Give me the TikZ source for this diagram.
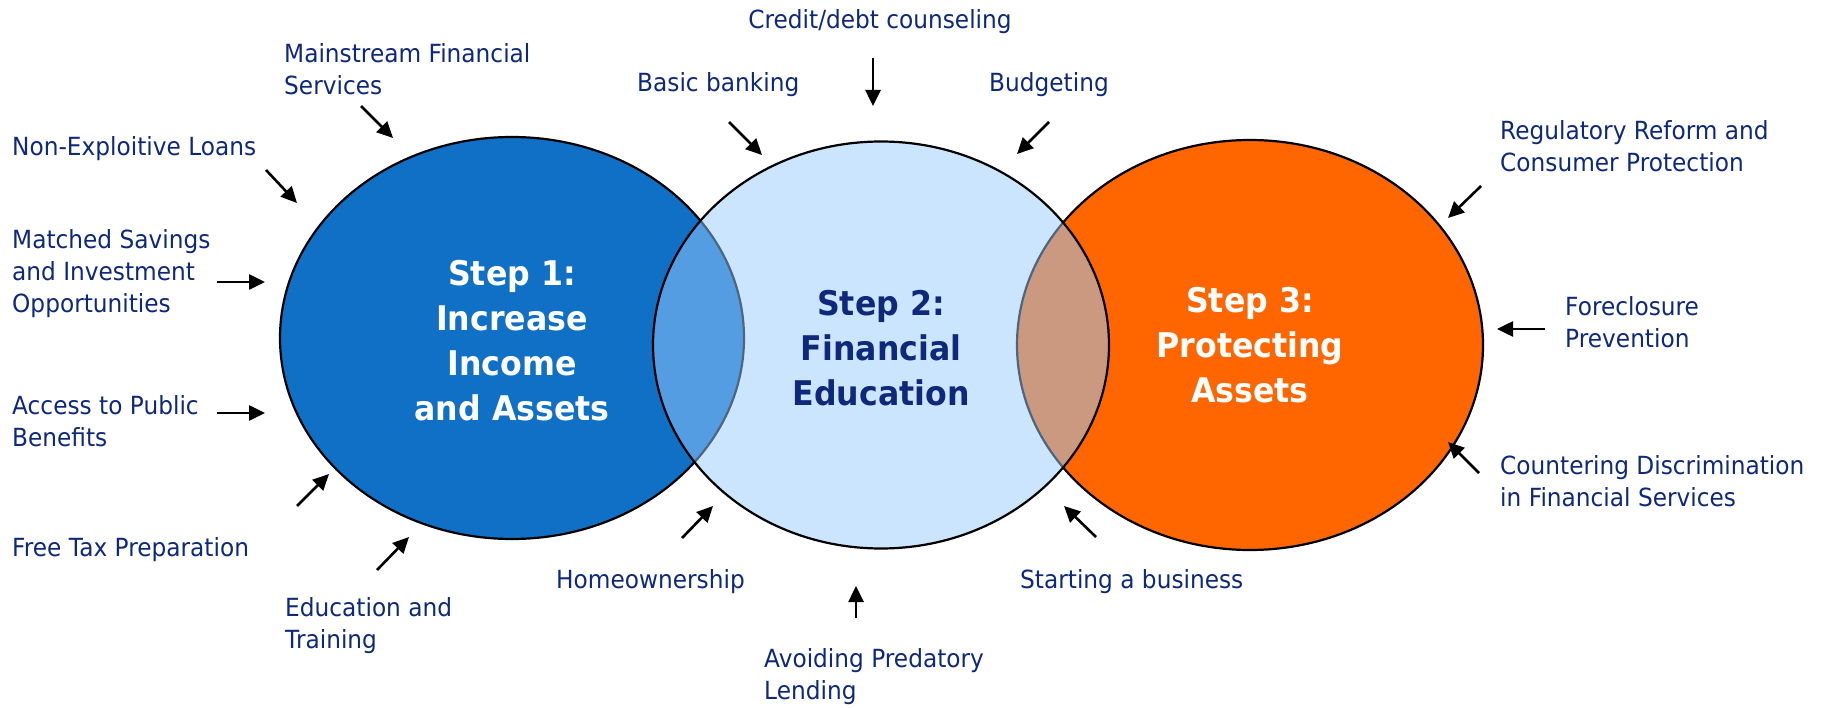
\documentclass[tikz,border=0pt]{standalone}
\usepackage{fontspec}
\setmainfont{DejaVu Sans}[FakeStretch=0.93]
\usepackage{tikz}
\usetikzlibrary{arrows.meta}
\usetikzlibrary{shapes.geometric}
\definecolor{lblblue}{RGB}{14,40,122}
\definecolor{ringA}{RGB}{16,112,198}
\definecolor{ringB}{RGB}{153,203,255}
\definecolor{ringC}{RGB}{255,102,0}
\tikzstyle{arr}=[-{Triangle[length=16pt,width=15pt]},line width=2.6pt]
\tikzstyle{ring}=[ellipse,draw=black,line width=2.2pt,inner sep=0pt,outer sep=0pt]
\tikzstyle{lbl}=[text=lblblue,align=left,inner sep=0pt,anchor=west,
  font=\fontsize{25}{32}\selectfont]
\tikzstyle{head}=[align=center,inner sep=0pt,
  font=\bfseries\fontsize{34}{45}\selectfont]

\begin{document}
\begin{tikzpicture}[x=1pt,y=-1pt]
  \useasboundingbox (0,0) rectangle (1822,708);

  % rings, the middle one is see-through
  \node[ring,fill=ringA,minimum width=464pt,minimum height=402pt] (R1) at (512,338) {};
  \node[ring,fill=ringC,minimum width=466pt,minimum height=410pt] (R3) at (1250,345) {};
  \node[ring,fill=ringB,fill opacity=0.5,minimum width=456pt,minimum height=407pt] (R2) at (881,345) {};

  \node[head,text=white] (S1) at (512,341) {Step 1:\\Increase\\Income\\and Assets};
  \node[head,text=lblblue] (S2) at (881,348) {Step 2:\\Financial\\Education};
  \node[head,text=white] (S3) at (1250,345) {Step 3:\\Protecting\\Assets};

  % step 1 inputs
  \node[lbl] (mfs) at (284,69) {Mainstream Financial\\Services};
  \node[lbl] (nel) at (12,149) {Non-Exploitive Loans};
  \node[lbl] (msi) at (12,274) {Matched Savings\\and Investment\\Opportunities};
  \node[lbl] (apb) at (12,421) {Access to Public\\Benefits};
  \node[lbl] (ftp) at (12,550) {Free Tax Preparation};
  \node[lbl] (edt) at (285,626) {Education and\\Training};
  \coordinate (mfsT) at (361,106); \coordinate (mfsH) at (393,138);
  \coordinate (nelT) at (266,170); \coordinate (nelH) at (297,203);
  \coordinate (msiT) at (217,282); \coordinate (msiH) at (265,282);
  \coordinate (apbT) at (217,413); \coordinate (apbH) at (265,413);
  \coordinate (ftpT) at (297,506); \coordinate (ftpH) at (329,474);
  \coordinate (edtT) at (377,570); \coordinate (edtH) at (409,537);

  % step 2 inputs
  \node[lbl,anchor=center] (cdc) at (880,22) {Credit/debt counseling};
  \node[lbl] (bbk) at (637,85) {Basic banking};
  \node[lbl] (bud) at (989,85) {Budgeting};
  \node[lbl] (hom) at (556,582) {Homeownership};
  \node[lbl] (apl) at (764,677) {Avoiding Predatory\\Lending};
  \node[lbl] (sab) at (1020,582) {Starting a business};
  \coordinate (cdcT) at (873,58);   \coordinate (cdcH) at (873,106);
  \coordinate (bbkT) at (729,122);  \coordinate (bbkH) at (762,155);
  \coordinate (budT) at (1049,122); \coordinate (budH) at (1017,154);
  \coordinate (homT) at (682,538);  \coordinate (homH) at (713,506);
  \coordinate (aplT) at (856,618);  \coordinate (aplH) at (856,586);
  \coordinate (sabT) at (1096,537); \coordinate (sabH) at (1064,506);

  % step 3 inputs
  \node[lbl] (rrc) at (1500,146) {Regulatory Reform and\\Consumer Protection};
  \node[lbl] (fcp) at (1565,322) {Foreclosure\\Prevention};
  \node[lbl] (cdf) at (1500,481) {Countering Discrimination\\in Financial Services};
  \coordinate (rrcT) at (1481,186); \coordinate (rrcH) at (1448,218);
  \coordinate (fcpT) at (1545,329); \coordinate (fcpH) at (1497,329);
  \coordinate (cdfT) at (1479,473); \coordinate (cdfH) at (1448,442);

  \draw[arr] (mfsT) -- (mfsH);
  \draw[arr] (nelT) -- (nelH);
  \draw[arr] (msiT) -- (msiH);
  \draw[arr] (apbT) -- (apbH);
  \draw[arr] (ftpT) -- (ftpH);
  \draw[arr] (edtT) -- (edtH);
  \draw[arr] (cdcT) -- (cdcH);
  \draw[arr] (bbkT) -- (bbkH);
  \draw[arr] (budT) -- (budH);
  \draw[arr] (homT) -- (homH);
  \draw[arr] (aplT) -- (aplH);
  \draw[arr] (sabT) -- (sabH);
  \draw[arr] (rrcT) -- (rrcH);
  \draw[arr] (fcpT) -- (fcpH);
  \draw[arr] (cdfT) -- (cdfH);
\end{tikzpicture}
\end{document}
